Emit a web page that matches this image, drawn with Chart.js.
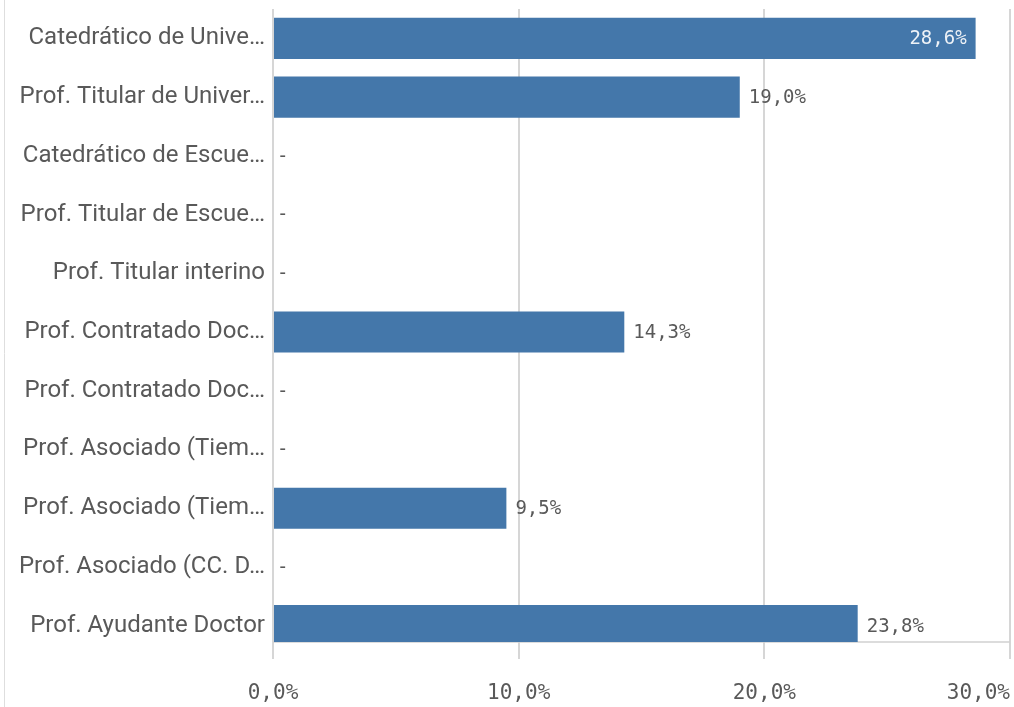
<!DOCTYPE html>
<html>
<head>
<meta charset="utf-8">
<script src="https://cdn.jsdelivr.net/npm/chart.js@4.4.1/dist/chart.umd.min.js"></script>
<style>
  html, body { margin: 0; padding: 0; background: #fff; }
  #wrap { position: relative; width: 1014px; height: 707px; }
</style>
</head>
<body>
<div id="wrap"><canvas id="profChart"></canvas></div>
<script>
// categories as shown (truncated by the original viewer)
var categories = [
    'Catedrático de Unive…',
    'Prof. Titular de Univer…',
    'Catedrático de Escue…',
    'Prof. Titular de Escue…',
    'Prof. Titular interino',
    'Prof. Contratado Doc…',
    'Prof. Contratado Doc…',
    'Prof. Asociado (Tiem…',
    'Prof. Asociado (Tiem…',
    'Prof. Asociado (CC. D…',
    'Prof. Ayudante Doctor'
];
var percentages = [28.6, 19.0, 0, 0, 0, 14.3, 0, 0, 9.5, 0, 23.8];
var xTicks = [0, 10, 20, 30];

var monoFont = '"DejaVu Sans Mono", monospace';
var textGray = '#595959';

function fmtPct(v) {
    return v.toFixed(1).replace('.', ',') + '%';
}

// thin frame line on the left and the baseline under the bars
var framePlugin = {
    id: 'frame',
    beforeDraw: function(chart) {
        var c = chart.ctx;
        c.save();
        c.strokeStyle = '#dedede';
        c.lineWidth = 1;
        c.beginPath();
        c.moveTo(4.5, 0);
        c.lineTo(4.5, chart.height);
        c.stroke();
        c.restore();
    },
    beforeDatasetsDraw: function(chart) {
        var a = chart.chartArea, c = chart.ctx;
        c.save();
        c.strokeStyle = '#d0d0d0';
        c.lineWidth = 1.5;
        c.beginPath();
        c.moveTo(a.left, a.bottom - 13);
        c.lineTo(a.right, a.bottom - 13);
        c.stroke();
        c.restore();
    }
};

// value labels: outside the bar when they fit, inside otherwise, "-" for zero
var valueLabels = {
    id: 'valueLabels',
    afterDatasetsDraw: function(chart) {
        var c = chart.ctx, a = chart.chartArea;
        var meta = chart.getDatasetMeta(0);
        c.save();
        c.font = '19px ' + monoFont;
        c.textBaseline = 'middle';
        meta.data.forEach(function(bar, i) {
            var v = percentages[i];
            var txt = v === 0 ? '-' : fmtPct(v);
            var w = c.measureText(txt).width;
            if (v !== 0 && bar.x + 9 + w > a.right) {
                c.fillStyle = '#eef2f7';
                c.textAlign = 'right';
                c.fillText(txt, bar.x - 9, bar.y + 1);
            } else {
                c.fillStyle = textGray;
                c.textAlign = 'left';
                c.fillText(txt, bar.x + (v === 0 ? 4 : 9), bar.y + 1);
            }
        });
        c.restore();
    }
};

var ctx = document.getElementById('profChart').getContext('2d');
var profChart = new Chart(ctx, {
    type: 'bar',
    data: {
        labels: categories,
        datasets: [{
            data: percentages,
            backgroundColor: '#4477aa',
            borderWidth: 0,
            barPercentage: 0.7,
            categoryPercentage: 1.0,
            clip: { left: 0, top: 0, right: 0, bottom: -13 }
        }]
    },
    options: {
        indexAxis: 'y',
        responsive: true,
        maintainAspectRatio: false,
        animation: false,
        layout: { padding: { top: 9, right: 4, left: 0, bottom: 0 } },
        plugins: {
            legend: { display: false },
            tooltip: { enabled: false }
        },
        scales: {
            x: {
                min: 0,
                max: 30,
                afterBuildTicks: function(scale) {
                    scale.ticks = xTicks.map(function(v) { return { value: v }; });
                },
                afterFit: function(scale) {
                    scale.height = 52;
                    scale.paddingLeft = 0;
                    scale.paddingRight = 0;
                },
                grid: {
                    color: '#d6d6d6',
                    lineWidth: 2,
                    tickLength: 4,
                    drawTicks: true
                },
                border: { display: false },
                ticks: {
                    maxRotation: 0,
                    padding: 22,
                    color: textGray,
                    font: { family: monoFont, size: 21 },
                    callback: function(v, i, ticks) {
                        var s = fmtPct(v);
                        // last label sits flush right against the end of the axis
                        if (i === ticks.length - 1) s += '     ';
                        return s;
                    }
                }
            },
            y: {
                afterFit: function(scale) {
                    scale.width = 273;
                    scale.paddingTop = 0;
                    scale.paddingBottom = 0;
                },
                grid: { display: false, drawTicks: false },
                border: { display: false },
                ticks: {
                    padding: 8,
                    color: textGray,
                    autoSkip: false,
                    font: { family: 'Roboto', size: 24 }
                }
            }
        }
    },
    plugins: [framePlugin, valueLabels]
});
</script>
</body>
</html>
